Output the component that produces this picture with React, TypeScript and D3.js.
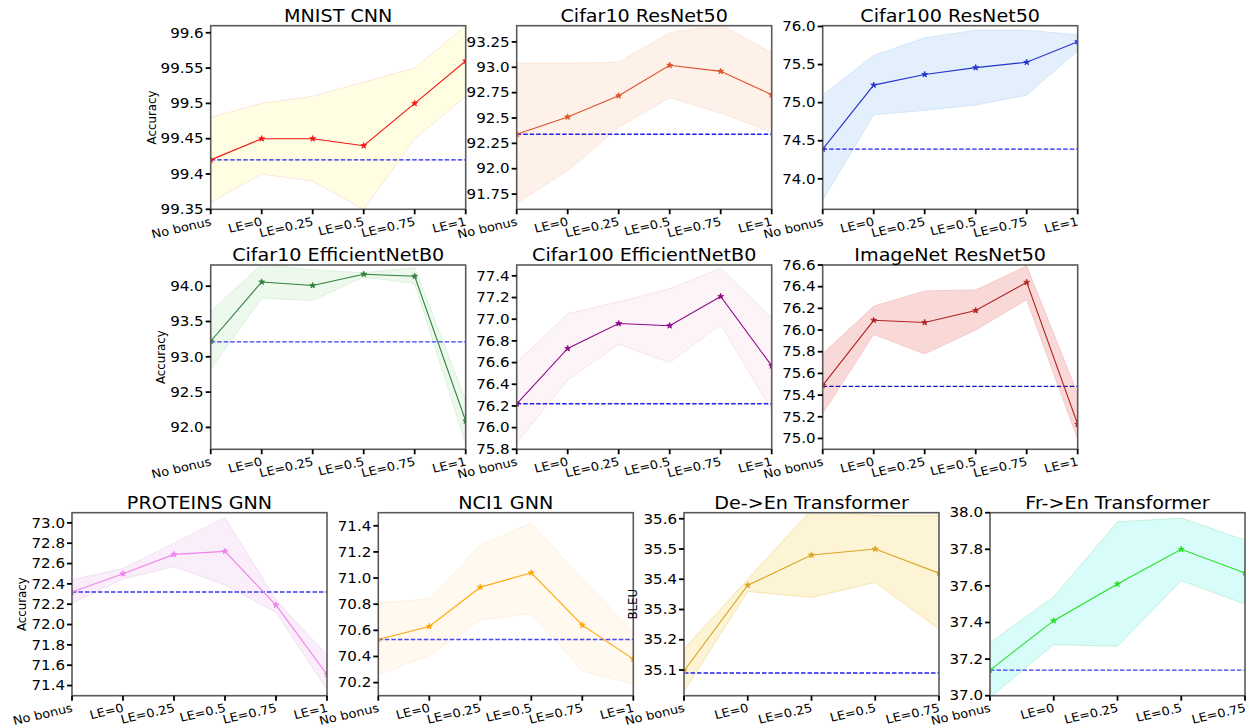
import React from "react";
import * as d3 from "d3";

const categories = ["No bonus", "LE=0", "LE=0.25", "LE=0.5", "LE=0.75", "LE=1"];
const categoriesTransformer = ["No bonus", "LE=0", "LE=0.25", "LE=0.5", "LE=0.75"];

// MNIST CNN
const mnistMean = [99.42, 99.45, 99.45, 99.44, 99.5, 99.56];
const mnistUpper = [99.48, 99.5, 99.51, 99.53, 99.55, 99.61];
const mnistLower = [99.36, 99.4, 99.39, 99.35, 99.45, 99.51];
const mnistBaseline = 99.42;
const mnistTicks = [99.35, 99.4, 99.45, 99.5, 99.55, 99.6];
const mnistTickLabels = ["99.35", "99.4", "99.45", "99.5", "99.55", "99.6"];

// Cifar10 ResNet50
const c10ResMean = [92.34, 92.51, 92.72, 93.02, 92.96, 92.73];
const c10ResUpper = [93.04, 93.04, 93.05, 93.34, 93.42, 93.14];
const c10ResLower = [91.66, 91.98, 92.41, 92.7, 92.55, 92.36];
const c10ResBaseline = 92.34;
const c10ResTicks = [91.75, 92.0, 92.25, 92.5, 92.75, 93.0, 93.25];
const c10ResTickLabels = ["91.75", "92.0", "92.25", "92.5", "92.75", "93.0", "93.25"];

// Cifar100 ResNet50
const c100ResMean = [74.39, 75.23, 75.37, 75.46, 75.53, 75.8];
const c100ResUpper = [75.1, 75.62, 75.85, 75.95, 75.95, 75.89];
const c100ResLower = [73.72, 74.84, 74.9, 74.97, 75.1, 75.68];
const c100ResBaseline = 74.39;
const c100ResTicks = [74.0, 74.5, 75.0, 75.5, 76.0];
const c100ResTickLabels = ["74.0", "74.5", "75.0", "75.5", "76.0"];

// Cifar10 EfficientNetB0
const c10EffMean = [93.22, 94.06, 94.01, 94.17, 94.14, 92.09];
const c10EffUpper = [93.64, 94.31, 94.23, 94.19, 94.26, 92.38];
const c10EffLower = [92.83, 93.83, 93.8, 94.13, 94.04, 91.77];
const c10EffBaseline = 93.21;
const c10EffTicks = [92.0, 92.5, 93.0, 93.5, 94.0];
const c10EffTickLabels = ["92.0", "92.5", "93.0", "93.5", "94.0"];

// Cifar100 EfficientNetB0
const c100EffMean = [76.22, 76.73, 76.96, 76.94, 77.21, 76.57];
const c100EffUpper = [76.6, 77.05, 77.16, 77.28, 77.47, 77.01];
const c100EffLower = [75.86, 76.44, 76.77, 76.6, 76.95, 76.16];
const c100EffBaseline = 76.22;
const c100EffTicks = [75.8, 76.0, 76.2, 76.4, 76.6, 76.8, 77.0, 77.2, 77.4];
const c100EffTickLabels = ["75.8", "76.0", "76.2", "76.4", "76.6", "76.8", "77.0", "77.2", "77.4"];

// ImageNet ResNet50
const imagenetMean = [75.49, 76.09, 76.07, 76.18, 76.44, 75.13];
const imagenetUpper = [75.78, 76.22, 76.36, 76.37, 76.59, 75.41];
const imagenetLower = [75.23, 75.96, 75.78, 76.0, 76.28, 74.99];
const imagenetBaseline = 75.48;
const imagenetTicks = [75.0, 75.2, 75.4, 75.6, 75.8, 76.0, 76.2, 76.4, 76.6];
const imagenetTickLabels = ["75.0", "75.2", "75.4", "75.6", "75.8", "76.0", "76.2", "76.4", "76.6"];

// PROTEINS GNN
const proteinsMean = [72.32, 72.5, 72.69, 72.72, 72.19, 71.51];
const proteinsUpper = [72.44, 72.55, 72.8, 73.05, 72.24, 71.7];
const proteinsLower = [72.21, 72.45, 72.57, 72.39, 72.12, 71.36];
const proteinsBaseline = 72.32;
const proteinsTicks = [71.4, 71.6, 71.8, 72.0, 72.2, 72.4, 72.6, 72.8, 73.0];
const proteinsTickLabels = ["71.4", "71.6", "71.8", "72.0", "72.2", "72.4", "72.6", "72.8", "73.0"];

// NCI1 GNN
const nci1Mean = [70.53, 70.63, 70.93, 71.04, 70.64, 70.38];
const nci1Upper = [70.81, 70.84, 71.25, 71.42, 70.99, 70.59];
const nci1Lower = [70.26, 70.41, 70.68, 70.73, 70.29, 70.19];
const nci1Baseline = 70.53;
const nci1Ticks = [70.2, 70.4, 70.6, 70.8, 71.0, 71.2, 71.4];
const nci1TickLabels = ["70.2", "70.4", "70.6", "70.8", "71.0", "71.2", "71.4"];

// De->En Transformer
const deEnMean = [35.097, 35.38, 35.48, 35.5, 35.42];
const deEnUpper = [35.17, 35.4, 35.63, 35.61, 35.61];
const deEnLower = [35.03, 35.36, 35.34, 35.39, 35.235];
const deEnBaseline = 35.09;
const deEnTicks = [35.1, 35.2, 35.3, 35.4, 35.5, 35.6];
const deEnTickLabels = ["35.1", "35.2", "35.3", "35.4", "35.5", "35.6"];

// Fr->En Transformer
const frEnMean = [37.14, 37.41, 37.61, 37.8, 37.67];
const frEnUpper = [37.29, 37.54, 37.95, 37.97, 37.85];
const frEnLower = [36.99, 37.28, 37.27, 37.63, 37.5];
const frEnBaseline = 37.14;
const frEnTicks = [37.0, 37.2, 37.4, 37.6, 37.8, 38.0];
const frEnTickLabels = ["37.0", "37.2", "37.4", "37.6", "37.8", "38.0"];

interface Panel {
  id: string;
  title: string;
  cats: string[];
  mean: number[];
  upper: number[];
  lower: number[];
  baseline: number;
  ticks: number[];
  tickLabels: string[];
  domain: [number, number];
  ylabel?: string;
  ylabelX?: number;
  left: number;
  top: number;
  width: number;
  height: number;
  line: string;
  fill: string;
  edge: string;
  base: string;
}

const W = 255;
const row1 = { top: 25.7, height: 183.6 };
const row2 = { top: 265, height: 184.3 };
const row3 = { top: 512.7, height: 183 };

const panels: Panel[] = [
  { id: "mnist", title: "MNIST CNN", cats: categories, mean: mnistMean, upper: mnistUpper, lower: mnistLower, baseline: mnistBaseline, ticks: mnistTicks, tickLabels: mnistTickLabels, domain: [99.35, 99.61], ylabel: "Accuracy", ylabelX: 152, left: 210.7, ...row1, width: W, line: "#f41414", fill: "#fffee2", edge: "#fde4dc", base: "#1f1ff0" },
  { id: "c10res", title: "Cifar10 ResNet50", cats: categories, mean: c10ResMean, upper: c10ResUpper, lower: c10ResLower, baseline: c10ResBaseline, ticks: c10ResTicks, tickLabels: c10ResTickLabels, domain: [91.6, 93.41], left: 516.7, ...row1, width: W, line: "#de5226", fill: "#fdf1e9", edge: "#fbe6db", base: "#1f1ff0" },
  { id: "c100res", title: "Cifar100 ResNet50", cats: categories, mean: c100ResMean, upper: c100ResUpper, lower: c100ResLower, baseline: c100ResBaseline, ticks: c100ResTicks, tickLabels: c100ResTickLabels, domain: [73.6, 76.01], left: 822.7, ...row1, width: W, line: "#2532d0", fill: "#e3f0fc", edge: "#d2e5f9", base: "#1f1ff0" },
  { id: "c10eff", title: "Cifar10 EfficientNetB0", cats: categories, mean: c10EffMean, upper: c10EffUpper, lower: c10EffLower, baseline: c10EffBaseline, ticks: c10EffTicks, tickLabels: c10EffTickLabels, domain: [91.69, 94.3], ylabel: "Accuracy", ylabelX: 161, left: 210.7, ...row2, width: W, line: "#2f7f3f", fill: "#ecf9ec", edge: "#dbf2db", base: "#3a3af5" },
  { id: "c100eff", title: "Cifar100 EfficientNetB0", cats: categories, mean: c100EffMean, upper: c100EffUpper, lower: c100EffLower, baseline: c100EffBaseline, ticks: c100EffTicks, tickLabels: c100EffTickLabels, domain: [75.8, 77.5], left: 516.7, ...row2, width: W, line: "#8b0a8b", fill: "#fdf4f7", edge: "#f6e3ec", base: "#1f1ff0" },
  { id: "imagenet", title: "ImageNet ResNet50", cats: categories, mean: imagenetMean, upper: imagenetUpper, lower: imagenetLower, baseline: imagenetBaseline, ticks: imagenetTicks, tickLabels: imagenetTickLabels, domain: [74.9, 76.6], left: 822.7, ...row2, width: W, line: "#b22222", fill: "#f9d8d8", edge: "#f6caca", base: "#1010c0" },
  { id: "proteins", title: "PROTEINS GNN", cats: categories, mean: proteinsMean, upper: proteinsUpper, lower: proteinsLower, baseline: proteinsBaseline, ticks: proteinsTicks, tickLabels: proteinsTickLabels, domain: [71.3, 73.1], ylabel: "Accuracy", ylabelX: 22, left: 72, ...row3, width: W, line: "#ee82ee", fill: "#f9eefa", edge: "#f3dff3", base: "#3a3af5" },
  { id: "nci1", title: "NCI1 GNN", cats: categories, mean: nci1Mean, upper: nci1Upper, lower: nci1Lower, baseline: nci1Baseline, ticks: nci1Ticks, tickLabels: nci1TickLabels, domain: [70.1, 71.5], left: 378.3, ...row3, width: W, line: "#ffa500", fill: "#fff9ef", edge: "#fdf0e1", base: "#4646f7" },
  { id: "deen", title: "De->En Transformer", cats: categoriesTransformer, mean: deEnMean, upper: deEnUpper, lower: deEnLower, baseline: deEnBaseline, ticks: deEnTicks, tickLabels: deEnTickLabels, domain: [35.015, 35.62], ylabel: "BLEU", ylabelX: 633, left: 684, ...row3, width: W, line: "#daa520", fill: "#fdf4d6", edge: "#f7e4ae", base: "#1f1ff0" },
  { id: "fren", title: "Fr->En Transformer", cats: categoriesTransformer, mean: frEnMean, upper: frEnUpper, lower: frEnLower, baseline: frEnBaseline, ticks: frEnTicks, tickLabels: frEnTickLabels, domain: [37.0, 38.0], left: 990, ...row3, width: W, line: "#22e022", fill: "#d8fcfa", edge: "#bff3d8", base: "#3a3af5" },
];

const FONT = "'DejaVu Sans', sans-serif";
const SX = 1.1;

function PanelView({ p }: { p: Panel }) {
  const x = d3
    .scalePoint<string>()
    .domain(p.cats)
    .range([p.left, p.left + p.width]);
  const y = d3
    .scaleLinear()
    .domain(p.domain)
    .range([p.top + p.height, p.top]);
  const bottom = p.top + p.height;
  const right = p.left + p.width;

  const area = d3
    .area<number>()
    .x((_, i) => x(p.cats[i]) as number)
    .y0((_, i) => y(p.lower[i]))
    .y1((_, i) => y(p.upper[i]));
  const line = d3
    .line<number>()
    .x((_, i) => x(p.cats[i]) as number)
    .y((d) => y(d));
  const star = d3.symbol().type(d3.symbolStar).size(11)() as string;
  const clipId = `clip-${p.id}`;

  return (
    <g>
      <defs>
        <clipPath id={clipId}>
          <rect x={p.left} y={p.top} width={p.width} height={p.height} />
        </clipPath>
      </defs>
      <g clipPath={`url(#${clipId})`}>
        <path d={area(p.mean) as string} fill={p.fill} stroke={p.edge} strokeWidth={1} />
        <line
          x1={p.left}
          x2={right}
          y1={y(p.baseline)}
          y2={y(p.baseline)}
          stroke={p.base}
          strokeWidth={1.3}
          strokeDasharray="4.5,2"
        />
        <path d={line(p.mean) as string} fill="none" stroke={p.line} strokeWidth={1.1} />
        {p.mean.map((v, i) => (
          <path
            key={i}
            d={star}
            transform={`translate(${x(p.cats[i])},${y(v)})`}
            fill={p.line}
            stroke={p.line}
            strokeWidth={0.8}
          />
        ))}
      </g>
      {/* spines */}
      <rect
        x={p.left}
        y={p.top}
        width={p.width}
        height={p.height}
        fill="none"
        stroke="#5a5a5a"
        strokeWidth={1.6}
      />
      {/* y ticks */}
      {p.ticks.map((t, i) => (
        <g key={`yt${i}`}>
          <line x1={p.left - 5} x2={p.left} y1={y(t)} y2={y(t)} stroke="#000" strokeWidth={1.8} />
          <text
            transform={`translate(${p.left - 7},${y(t)}) scale(${SX},1)`}
            textAnchor="end"
            dominantBaseline="central"
            fontSize={13.7}
            fontFamily={FONT}
            fill="#000"
          >
            {p.tickLabels[i]}
          </text>
        </g>
      ))}
      {/* x ticks */}
      {p.cats.map((c, i) => (
        <g key={`xt${i}`}>
          <line
            x1={x(c) as number}
            x2={x(c) as number}
            y1={bottom}
            y2={bottom + 5}
            stroke="#000"
            strokeWidth={1.8}
          />
          <text
            transform={`translate(${(x(c) as number) - 1},${bottom + 7}) scale(${SX},1) rotate(-14)`}
            textAnchor="end"
            dominantBaseline="hanging"
            fontSize={11.8}
            fontFamily={FONT}
            fill="#000"
          >
            {c}
          </text>
        </g>
      ))}
      {/* title */}
      <text
        transform={`translate(${p.left + p.width / 2},${p.top - 4}) scale(${SX},1)`}
        textAnchor="middle"
        fontSize={17.4}
        fontFamily={FONT}
        fill="#000"
      >
        {p.title}
      </text>
      {p.ylabel && (
        <text
          transform={`translate(${p.ylabelX},${p.top + p.height / 2}) rotate(-90)`}
          textAnchor="middle"
          dominantBaseline="central"
          fontSize={11.8}
          fontFamily={FONT}
          fill="#000"
        >
          {p.ylabel}
        </text>
      )}
    </g>
  );
}

export default function App() {
  return (
    <svg
      width={1250}
      height={728}
      viewBox="0 0 1250 728"
      style={{ position: "absolute", left: 0, top: 0, display: "block", background: "#fff" }}
    >
      <rect x={0} y={0} width={1250} height={728} fill="#fff" />
      {panels.map((p) => (
        <PanelView key={p.id} p={p} />
      ))}
    </svg>
  );
}
